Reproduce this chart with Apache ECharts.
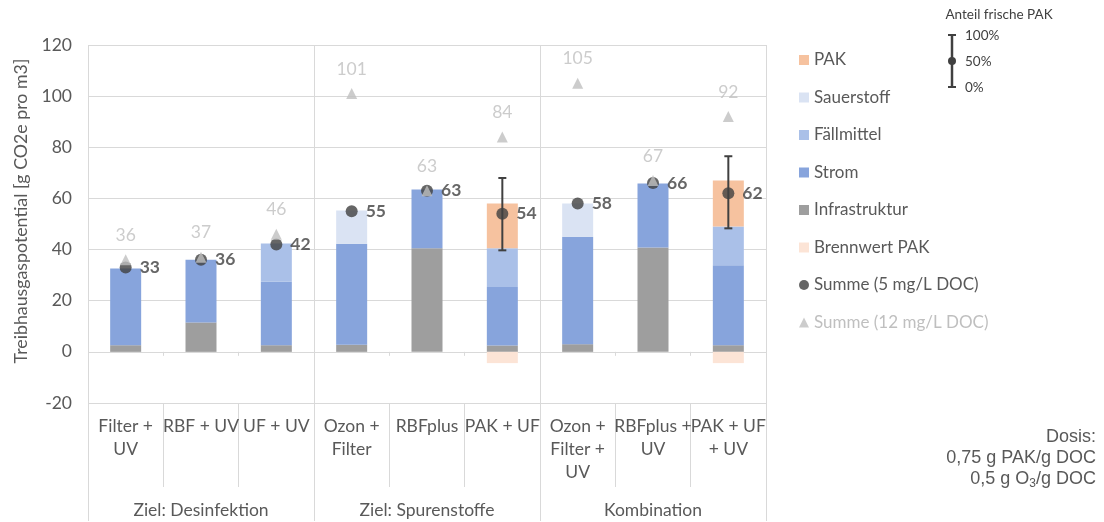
<!DOCTYPE html>
<html>
<head>
<meta charset="utf-8">
<script src="https://cdn.jsdelivr.net/npm/echarts@6/dist/echarts.min.js"></script>
<style>
  html, body { margin: 0; padding: 0; background: #ffffff; }
  #chart { width: 1104px; height: 522px; }
</style>
</head>
<body>
<div id="chart"></div>
<script>
// Treatment options, grouped by goal
const categories = ['Filter +\nUV', 'RBF + UV', 'UF + UV', 'Ozon +\nFilter', 'RBFplus', 'PAK + UF',
                    'Ozon +\nFilter +\nUV', 'RBFplus +\nUV', 'PAK + UF\n+ UV'];
const groups = ['Ziel: Desinfektion', 'Ziel: Spurenstoffe', 'Kombination'];

// Stacked contributions [g CO2e pro m3]
const infrastruktur = [2.6, 11.5, 2.6, 2.8, 40.5, 2.5, 3.0, 40.8, 2.6];
const strom         = [30.0, 24.5, 24.8, 39.5, 23.0, 22.9, 42.0, 25.0, 31.3];
const faellmittel   = [null, null, 15.0, null, null, 15.1, null, null, 15.1];
const sauerstoff    = [null, null, null, 13.0, null, null, 13.0, null, null];
const pak           = [null, null, null, null, null, 17.5, null, null, 18.0];
const brennwertPak  = [null, null, null, null, null, -4.4, null, null, -4.4];

// Totals for two DOC concentrations
const summe5  = [33, 36, 42, 55, 63, 54, 58, 66, 62];
const summe12 = [36, 37, 46, 101, 63, 84, 105, 67, 92];

// Range for share of fresh PAK (0% .. 100%)
const anteilMin = [null, null, null, null, null, 39.7, null, null, 48.3];
const anteilMax = [null, null, null, null, null, 68.0, null, null, 76.5];

// Value axis
const yMin = -20, yMax = 120, yStep = 20;

// Whisker key labels and dosage note
const keyLabels = ['100%', '50%', '0%'];
const doseLines = ['Dosis:', '0,75 g PAK/g DOC'];

const FONT = 'Lato';
const TXT = '#595959';
const GRID = '#D9D9D9';

const colors = {
  'PAK': '#F6C29F',
  'Sauerstoff': '#DAE3F3',
  'Fällmittel': '#AAC0E8',
  'Strom': '#87A4DC',
  'Infrastruktur': '#9E9E9E',
  'Brennwert PAK': '#FCE4D6'
};

const errData = [];
anteilMin.forEach((lo, i) => {
  if (lo !== null && anteilMax[i] !== null) errData.push([i, lo, anteilMax[i]]);
});

function barSeries(name, data) {
  return {
    name, type: 'bar', stack: 'total', data, barWidth: 31,
    itemStyle: { color: colors[name] }, z: 2
  };
}

// whisker key in the top right corner
const KEY_X = 952, KEY_TOP = 35, KEY_BOT = 87;
const keyStyle = { stroke: '#404040', lineWidth: 2 };
const keyGraphics = [
  { type: 'text', x: 999, y: 15, style: { text: 'Anteil frische PAK', fontFamily: FONT, fontSize: 13.5, fill: '#404040', align: 'center', verticalAlign: 'middle' } },
  { type: 'line', shape: { x1: KEY_X, y1: KEY_TOP, x2: KEY_X, y2: KEY_BOT }, style: { stroke: '#404040', lineWidth: 2.5 } },
  { type: 'line', shape: { x1: KEY_X - 4, y1: KEY_TOP, x2: KEY_X + 4, y2: KEY_TOP }, style: keyStyle },
  { type: 'line', shape: { x1: KEY_X - 4, y1: KEY_BOT, x2: KEY_X + 4, y2: KEY_BOT }, style: keyStyle },
  { type: 'circle', shape: { cx: KEY_X, cy: (KEY_TOP + KEY_BOT) / 2, r: 4 }, style: { fill: '#404040' } }
];
keyLabels.forEach((t, i) => {
  keyGraphics.push({
    type: 'text', x: 965, y: KEY_TOP + i * (KEY_BOT - KEY_TOP) / 2 + 1,
    style: { text: t, fontFamily: FONT, fontSize: 13.5, fill: '#404040', verticalAlign: 'middle' }
  });
});

// dosage note, right aligned
const DOSE_RIGHT = 1096;
const doseStyle = { fontFamily: 'Liberation Sans', fontSize: 18, fill: TXT, align: 'right', verticalAlign: 'middle' };
const doseGraphics = doseLines.map((t, i) => ({
  type: 'text', x: DOSE_RIGHT, y: 437 + i * 21, style: Object.assign({ text: t }, doseStyle)
}));
doseGraphics.push({
  type: 'text', x: DOSE_RIGHT, y: 479,
  style: {
    text: '{a|0,5 g O}{s|3}{a|/g DOC}', align: 'right', verticalAlign: 'middle',
    rich: {
      a: { fontFamily: 'Liberation Sans', fontSize: 18, fill: TXT, height: 22, verticalAlign: 'middle' },
      s: { fontFamily: 'Liberation Sans', fontSize: 12, fill: TXT, height: 22, verticalAlign: 'bottom', padding: [10, 0, 0, 0] }
    }
  }
});

const chart = echarts.init(document.getElementById('chart'), null, { renderer: 'canvas' });

chart.setOption({
  animation: false,
  textStyle: { fontFamily: FONT },
  grid: { left: 88, right: 338, top: 45, bottom: 118 },
  legend: {
    orient: 'vertical', left: 794, top: 45,
    itemWidth: 10, itemHeight: 10, itemGap: 17.5,
    selectedMode: false,
    textStyle: { fontFamily: FONT, fontSize: 17, color: TXT, lineHeight: 20 },
    data: [
      { name: 'PAK', icon: 'rect' },
      { name: 'Sauerstoff', icon: 'rect' },
      { name: 'Fällmittel', icon: 'rect' },
      { name: 'Strom', icon: 'rect' },
      { name: 'Infrastruktur', icon: 'rect' },
      { name: 'Brennwert PAK', icon: 'rect' },
      { name: 'Summe (5 mg/L DOC)', icon: 'circle' },
      { name: 'Summe (12 mg/L DOC)', icon: 'triangle', textStyle: { color: '#BFBFBF' } }
    ]
  },
  xAxis: [
    {
      type: 'category', data: categories, position: 'bottom',
      axisLine: { show: false, onZero: false },
      axisTick: { show: true, interval: 0, length: 84, lineStyle: { color: GRID } },
      axisLabel: { interval: 0, margin: 12, fontSize: 17.5, lineHeight: 23, color: TXT, fontFamily: FONT },
      splitLine: { show: false }
    },
    {
      type: 'category', data: groups, position: 'bottom',
      axisLine: { show: false, onZero: false },
      axisTick: { show: true, interval: 0, length: 118, lineStyle: { color: GRID } },
      axisLabel: { interval: 0, margin: 96, fontSize: 17.5, lineHeight: 23, color: TXT, fontFamily: FONT },
      splitLine: { show: true, interval: 0, lineStyle: { color: GRID } }
    },
    {
      type: 'category', data: categories, position: 'bottom',
      axisLine: { show: false, onZero: true },
      axisTick: { show: true, interval: 0, length: 4, lineStyle: { color: GRID } },
      axisLabel: { show: false },
      splitLine: { show: false }
    }
  ],
  yAxis: {
    type: 'value', min: yMin, max: yMax, interval: yStep,
    axisLine: { show: false }, axisTick: { show: false },
    axisLabel: { fontSize: 17.5, color: TXT, margin: 16, fontFamily: FONT },
    splitLine: { lineStyle: { color: GRID, width: 1 } },
    name: 'Treibhausgaspotential [g CO2e pro m3]',
    nameLocation: 'middle', nameGap: 58,
    nameTextStyle: { fontFamily: FONT, fontWeight: 'normal', fontSize: 17.8, color: TXT, padding: [0, 0, 0, 26] }
  },
  series: [
    barSeries('Infrastruktur', infrastruktur),
    barSeries('Strom', strom),
    barSeries('Fällmittel', faellmittel),
    barSeries('Sauerstoff', sauerstoff),
    barSeries('PAK', pak),
    barSeries('Brennwert PAK', brennwertPak),
    {
      name: 'Anteil frische PAK', type: 'custom', data: errData,
      encode: { x: 0, y: [1, 2] }, z: 3,
      renderItem(params, api) {
        const x = api.value(0);
        const lo = api.coord([x, api.value(1)]);
        const hi = api.coord([x, api.value(2)]);
        const cap = 4;
        const st = { stroke: '#404040', lineWidth: 2 };
        return {
          type: 'group',
          children: [
            { type: 'line', shape: { x1: lo[0], y1: lo[1], x2: hi[0], y2: hi[1] }, style: st },
            { type: 'line', shape: { x1: lo[0] - cap, y1: lo[1], x2: lo[0] + cap, y2: lo[1] }, style: st },
            { type: 'line', shape: { x1: hi[0] - cap, y1: hi[1], x2: hi[0] + cap, y2: hi[1] }, style: st }
          ]
        };
      }
    },
    {
      name: 'Summe (5 mg/L DOC)', type: 'scatter', data: summe5, xAxisIndex: 0,
      symbol: 'circle', symbolSize: 12, z: 4,
      itemStyle: { color: '#404040' },
      label: { show: true, position: 'right', distance: 8, fontSize: 17.5, fontWeight: 'bold', color: '#404040', fontFamily: FONT }
    },
    {
      name: 'Summe (12 mg/L DOC)', type: 'scatter', data: summe12, xAxisIndex: 0,
      symbol: 'triangle', symbolSize: 11, z: 5,
      itemStyle: { color: '#BFBFBF' },
      label: { show: true, position: 'top', distance: 10, fontSize: 17.5, color: '#BFBFBF', fontFamily: FONT }
    }
  ],
  graphic: keyGraphics.concat(doseGraphics)
});
</script>
</body>
</html>
